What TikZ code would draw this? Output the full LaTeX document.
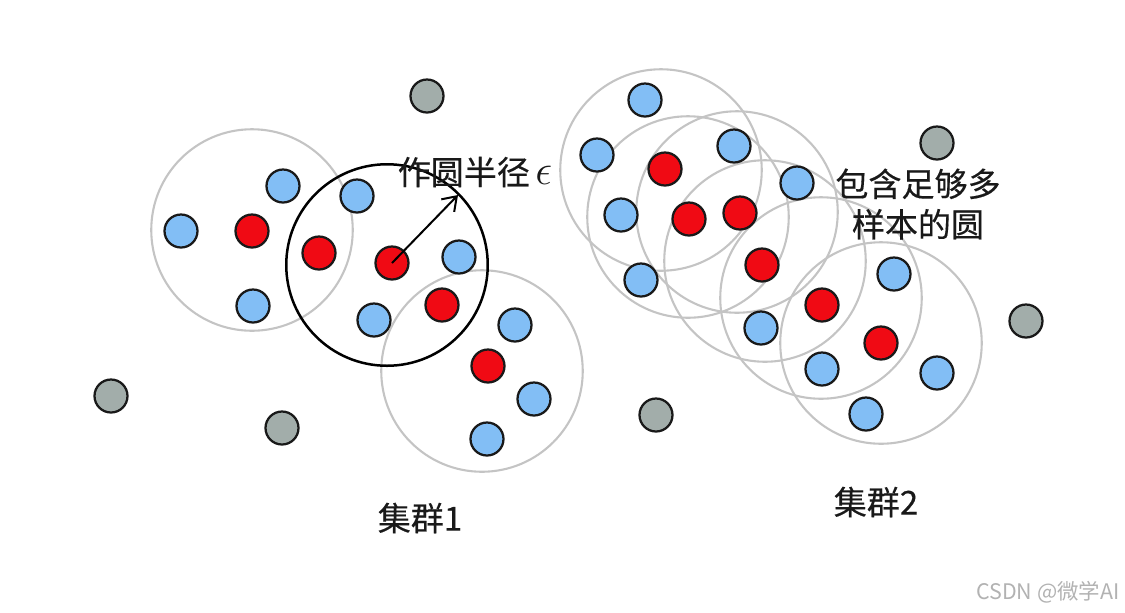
\documentclass[tikz,border=0pt]{standalone}
\usepackage{fontspec}
\newfontfamily\cjk[FakeBold=0.35]{Noto Sans CJK SC}
\newfontfamily\cjkplain{Noto Sans CJK SC}
\usetikzlibrary{arrows.meta}
\definecolor{zonegray}{HTML}{C4C4C4}
\definecolor{dotblue}{HTML}{82BEF5}
\definecolor{dotred}{HTML}{F00A14}
\definecolor{dotgray}{HTML}{A2ADAA}
\tikzset{
zone/.style={circle,draw=zonegray,line width=0.42mm,minimum size=40.3mm,inner sep=0pt},
probe/.style={circle,draw=black,line width=0.5mm,minimum size=40.3mm,inner sep=0pt},
dot/.style={circle,draw=black!90,line width=0.45mm,minimum size=6.6mm,inner sep=0pt},
blue dot/.style={dot,fill=dotblue},
red dot/.style={dot,fill=dotred},
gray dot/.style={dot,fill=dotgray},
label/.style={font=\cjk\fontsize{18.8}{23}\selectfont,align=center,text=black!90},
}
\begin{document}
\begin{tikzpicture}[x=0.2mm,y=-0.2mm]
\useasboundingbox (0,-1) rectangle (1125,611) ;

% circles of the two clusters
\node [zone] (zoneA) at (252,229) {} ;
\node [zone] (zoneB) at (482,370) {} ;
\node [zone] (zoneC) at (661,169) {} ;
\node [zone] (zoneD) at (688,216) {} ;
\node [zone] (zoneE) at (737,211) {} ;
\node [zone] (zoneF) at (765,260) {} ;
\node [zone] (zoneG) at (821,297) {} ;
\node [zone] (zoneH) at (881,342) {} ;
\node [probe] (zoneP) at (387,264) {} ;

% outliers
\node [gray dot] (g1) at (427,95) {} ;
\node [gray dot] (g2) at (937,142) {} ;
\node [gray dot] (g3) at (1026,320) {} ;
\node [gray dot] (g4) at (111,395) {} ;
\node [gray dot] (g5) at (282,427) {} ;
\node [gray dot] (g6) at (656,414) {} ;

% border points
\node [blue dot] (b1) at (283,185) {} ;
\node [blue dot] (b2) at (181,230) {} ;
\node [blue dot] (b3) at (253,305) {} ;
\node [blue dot] (b4) at (357,195) {} ;
\node [blue dot] (b5) at (459,256) {} ;
\node [blue dot] (b6) at (374,319) {} ;
\node [blue dot] (b7) at (515,324) {} ;
\node [blue dot] (b8) at (534,398) {} ;
\node [blue dot] (b9) at (487,438) {} ;
\node [blue dot] (b10) at (645,99) {} ;
\node [blue dot] (b11) at (597,154) {} ;
\node [blue dot] (b12) at (734,145) {} ;
\node [blue dot] (b13) at (797,182) {} ;
\node [blue dot] (b14) at (621,214) {} ;
\node [blue dot] (b15) at (641,279) {} ;
\node [blue dot] (b16) at (761,327) {} ;
\node [blue dot] (b17) at (894,273) {} ;
\node [blue dot] (b18) at (822,368) {} ;
\node [blue dot] (b19) at (937,372) {} ;
\node [blue dot] (b20) at (866,413) {} ;

% core points
\node [red dot] (r1) at (252,230) {} ;
\node [red dot] (r2) at (319,252) {} ;
\node [red dot] (r3) at (392,262) {} ;
\node [red dot] (r4) at (442,304) {} ;
\node [red dot] (r5) at (488,365) {} ;
\node [red dot] (r6) at (665,168) {} ;
\node [red dot] (r7) at (689,218) {} ;
\node [red dot] (r8) at (740,212) {} ;
\node [red dot] (r9) at (762,264) {} ;
\node [red dot] (r10) at (822,304) {} ;
\node [red dot] (r11) at (881,342) {} ;

% radius
\coordinate (tip) at (458,194) ;
\draw [line width=0.4mm,-{Straight Barb[length=2.6mm,width=3.6mm]}] (r3.center) -- (tip) ;

% labels
\node [label] (radiusText) at (475,171) {作圆半径\,\scalebox{1.4}{$\epsilon$}} ;
\node [label] (bigText) at (918,203) {包含足够多\\样本的圆} ;
\node [label] (clusterA) at (420,517) {集群1} ;
\node [label] (clusterB) at (876,501) {集群2} ;
\node [font=\cjkplain\fontsize{12.2}{14}\selectfont,text=black!30] (mark) at (1048,591) {CSDN @微学AI} ;
\end{tikzpicture}
\end{document}
